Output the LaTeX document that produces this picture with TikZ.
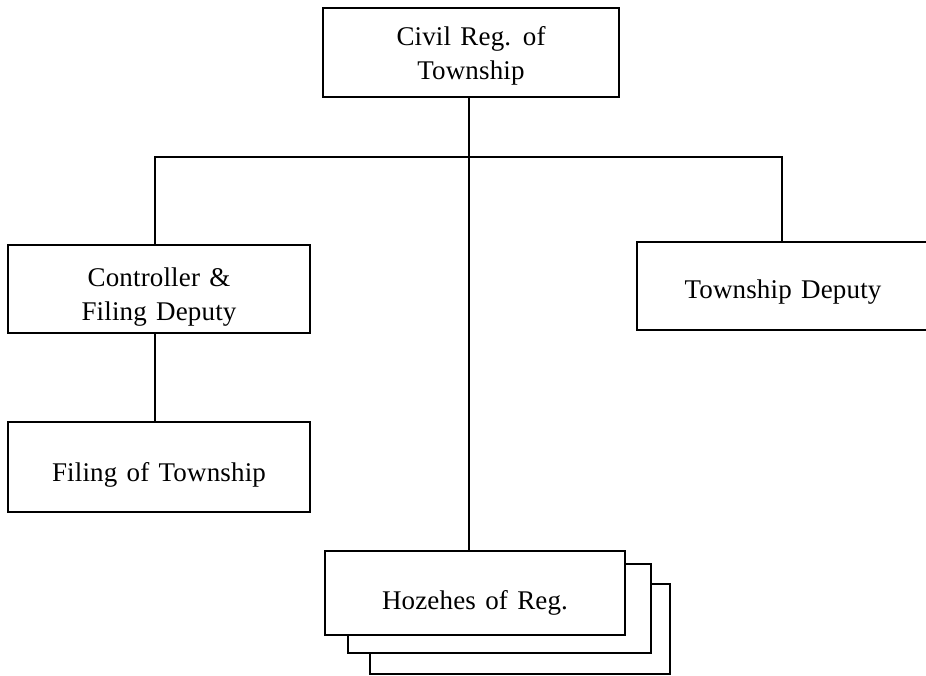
\documentclass[tikz,border=0pt]{standalone}
\usepackage{fontspec}
\setmainfont[LetterSpace=0.6,WordSpace=1.35]{Liberation Serif}
\begin{document}
\begin{tikzpicture}[x=1pt,y=-1pt,
  box/.style={draw=black, line width=1.7pt, fill=white, rectangle, inner sep=0pt},
  lbl/.style={inner sep=0pt, align=center, font=\fontsize{27}{34}\selectfont},
  link/.style={draw=black, line width=1.5pt}]
  \clip (0,0) rectangle (926,676);
  \useasboundingbox (0,0) rectangle (926,676);
  \fill[white] (0,0) rectangle (926,676);

  % head office
  \node[box, minimum width=296pt, minimum height=89pt] (top) at (471,52.5) {};
  \node[lbl] (topT) at ([yshift=-3pt]top.center) {Civil Reg. of\\Township};

  % second level
  \node[box, minimum width=302pt, minimum height=88pt] (ctrl) at (159,289) {};
  \node[lbl] (ctrlT) at ([yshift=-8pt]ctrl.center) {Controller \&\\Filing Deputy};
  \node[box, minimum width=292pt, minimum height=88pt] (dep) at (783,286) {};
  \node[lbl] (depT) at ([yshift=-6pt]dep.center) {Township Deputy};

  % filing office
  \node[box, minimum width=302pt, minimum height=90pt] (fil) at (159,467) {};
  \node[lbl] (filT) at ([yshift=-8pt]fil.center) {Filing of Township};

  % registration offices, stacked back to front
  \node[box, minimum width=300pt, minimum height=90pt] (hoz3) at (520,629) {};
  \node[box, minimum width=303pt, minimum height=89pt] (hoz2) at (499.5,608.5) {};
  \node[box, minimum width=300pt, minimum height=84pt] (hoz) at (475,593) {};
  \node[lbl] (hozT) at ([yshift=-10pt]hoz.center) {Hozehes of Reg.};

  % connectors
  \coordinate (trunk) at (469,0);
  \coordinate (jl) at (155,157);
  \coordinate (jr) at (782,157);
  \draw[link] (trunk |- top.south) -- (trunk |- hoz.north);
  \draw[link] (jl |- ctrl.north) -- (jl) -- (jr) -- (jr |- dep.north);
  \draw[link] (jl |- ctrl.south) -- (jl |- fil.north);
\end{tikzpicture}
\end{document}
